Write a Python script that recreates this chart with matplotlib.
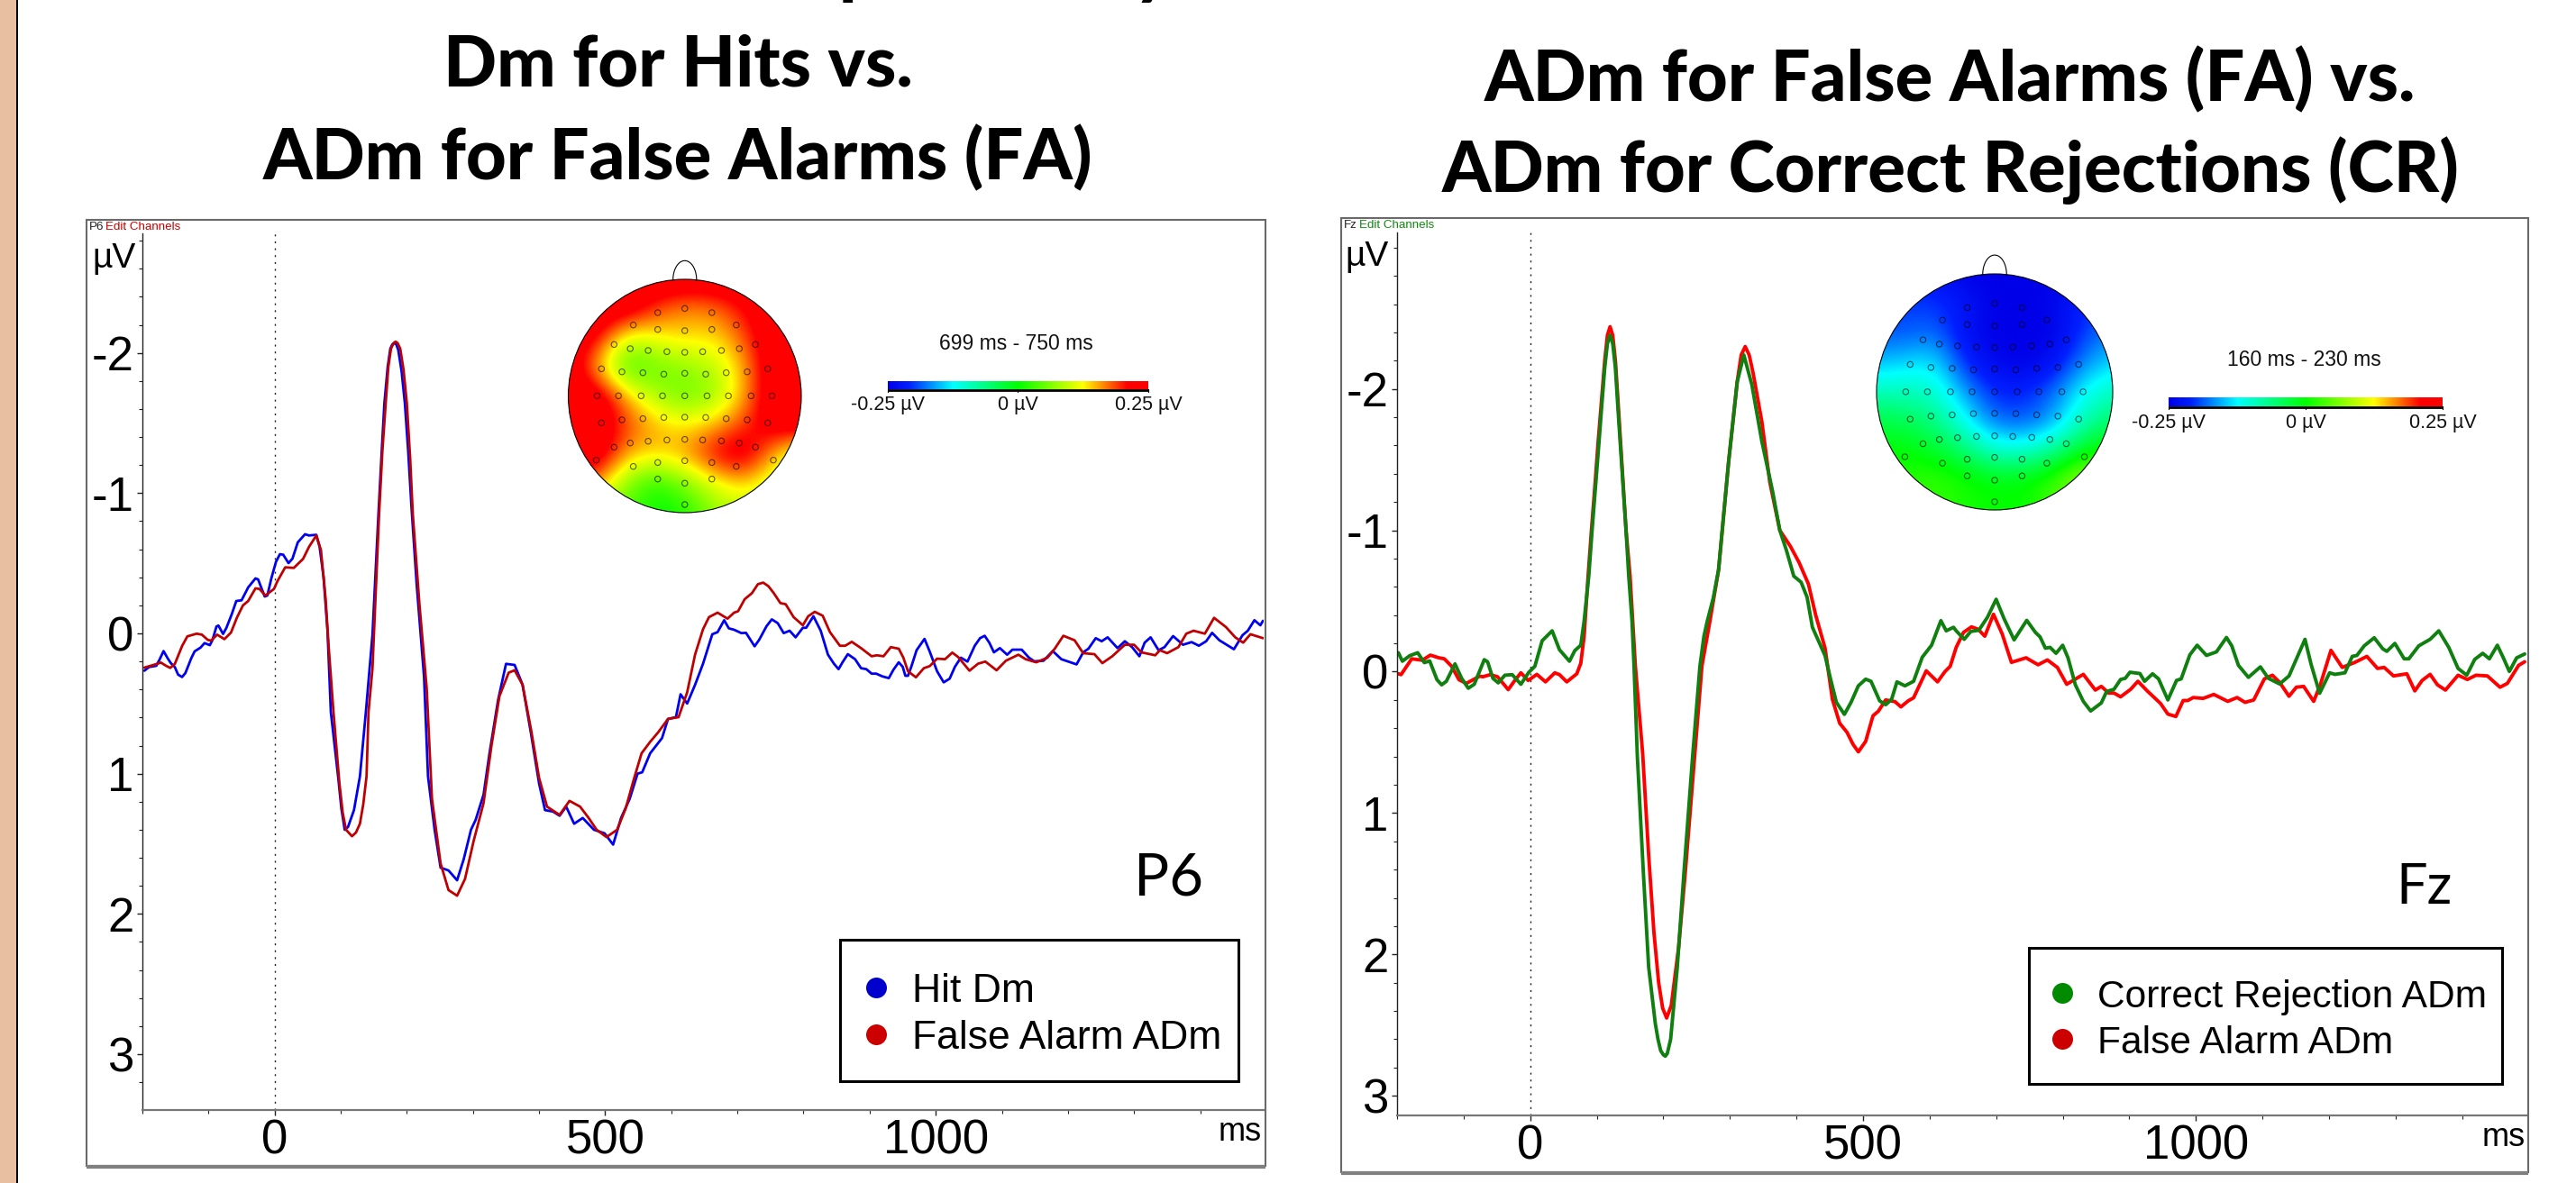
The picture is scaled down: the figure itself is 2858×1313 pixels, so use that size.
import numpy as np
import matplotlib
matplotlib.use("Agg")
import matplotlib.pyplot as plt
from matplotlib.colors import LinearSegmentedColormap
from matplotlib.patches import Rectangle, Ellipse

# ---- data: left panel (P6) ----
hit_ms = [-197,-190,-179,-174,-168,-162,-157,-151,-146,-140,-135,-126,-121,-112,-106,-98,-94,-88,-85,-78,-73,-65,-58,-50,-40,-29,-25,-15,-11,-5,2,8,13,21,27,35,46,52,63,68,74,80,85,96,101,106,111,120,129,138,148,157,162,166,171,175,178,181,184,187,192,197,202,207,215,226,232,242,251,263,276,286,297,304,316,325,338,350,363,375,388,400,409,421,431,441,453,466,483,499,512,524,537,549,556,568,586,595,607,614,624,636,648,662,670,680,687,695,706,713,726,733,744,752,761,770,779,788,799,804,815,826,837,846,853,859,867,878,887,895,903,910,919,929,936,944,950,954,958,963,971,983,991,1002,1012,1021,1029,1038,1048,1059,1067,1074,1081,1088,1097,1108,1116,1130,1141,1149,1163,1177,1190,1213,1223,1231,1242,1251,1260,1275,1286,1297,1308,1316,1325,1337,1346,1359,1374,1387,1398,1409,1418,1429,1451,1464,1472,1482,1491,1495]
hit_uv = [.266,.24,.231,.186,.126,.176,.212,.24,.294,.311,.283,.176,.128,.101,.069,.084,.047,-.049,-.056,.004,-.039,-.135,-.231,-.236,-.328,-.392,-.385,-.263,-.27,-.392,-.51,-.565,-.561,-.501,-.533,-.649,-.707,-.698,-.703,-.617,-.403,-.017,.56,1.02,1.25,1.40,1.38,1.26,1.02,.56,.01,-.85,-1.3,-1.64,-1.9,-2.03,-2.06,-2.07,-2.06,-2.02,-1.87,-1.64,-1.3,-.9,-.34,.31,1.02,1.40,1.67,1.69,1.76,1.61,1.40,1.33,1.15,.855,.475,.217,.225,.366,.72,1.07,1.26,1.27,1.30,1.235,1.357,1.316,1.40,1.425,1.506,1.316,1.18,1.0,.99,.855,.746,.61,.597,.434,.50,.366,.216,.006,-.009,-.094,-.036,-.026,-.002,-.004,.092,.045,-.051,-.10,-.073,-.002,-.019,.028,-.04,-.04,-.122,-.019,.152,.216,.255,.206,.148,.184,.248,.255,.287,.287,.306,.319,.259,.206,.238,.302,.302,.238,.12,.039,.131,.27,.349,.323,.238,.173,.201,.088,.034,.017,.066,.135,.105,.152,.116,.116,.173,.199,.195,.126,.184,.221,.135,.109,.034,.056,.028,.105,.056,.098,.163,.066,.028,.12,.098,.019,.081,.062,.088,.056,-.004,.049,.113,.013,-.019,-.094,-.058,-.09]
fa_p6_ms = [-197,-182,-172,-165,-158,-151,-140,-132,-118,-110,-101,-96,-87,-76,-66,-57,-48,-40,-29,-23,-14,-1,4,16,29,43,52,63,70,77,82,89,98,103,108,117,123,129,134,139,142,148,158,163,168,172,176,180,183,186,190,195,200,205,209,219,230,238,251,263,276,288,301,316,328,340,354,363,375,388,400,412,431,446,462,475,487,502,518,531,543,555,568,580,595,611,624,636,648,657,670,679,685,695,701,711,722,731,739,747,755,765,773,785,799,807,817,829,840,855,863,873,887,903,911,921,932,944,951,958,970,982,991,1002,1014,1025,1034,1051,1064,1075,1092,1106,1125,1136,1152,1169,1180,1193,1210,1223,1240,1252,1267,1286,1300,1311,1332,1339,1350,1367,1379,1390,1407,1421,1439,1453,1465,1476,1495]
fa_p6_uv = [.244,.223,.208,.229,.246,.218,.09,.021,.002,.009,.047,.051,.009,.041,-.006,-.113,-.199,-.231,-.321,-.317,-.27,-.317,-.37,-.471,-.467,-.531,-.617,-.698,-.595,-.253,.111,.56,1.07,1.28,1.40,1.446,1.42,1.357,1.22,1.02,.56,.25,-.85,-1.3,-1.64,-1.9,-2.03,-2.07,-2.08,-2.07,-2.03,-1.88,-1.64,-1.25,-.85,-.21,.39,1.18,1.64,1.83,1.87,1.75,1.48,1.21,.80,.448,.28,.263,.366,.69,1.03,1.235,1.294,1.194,1.235,1.316,1.40,1.452,1.40,1.248,1.045,.855,.773,.706,.61,.597,.42,.15,-.03,-.116,-.148,-.122,-.105,-.148,-.158,-.244,-.287,-.351,-.362,-.336,-.287,-.216,-.208,-.116,-.058,-.122,-.154,-.126,-.009,.088,.088,.06,.105,.163,.156,.163,.098,.109,.173,.27,.313,.248,.233,.18,.184,.137,.169,.266,.216,.201,.263,.195,.152,.184,.206,.173,.109,.017,.049,.141,.148,.212,.163,.081,.081,.135,.156,.12,.141,.098,.002,-.019,.002,-.111,-.045,.028,.066,.006,.034]

# ---- data: right panel (Fz) ----
fa_fz_ms = [-198,-194,-178,-162,-150,-137,-129,-118,-107,-96,-76,-71,-60,-49,-33,-24,-14,-3,10,23,37,44,55,70,76,81,87,92,97,102,107,112,116,120,124,128,132,138,144,150,158,169,178,186,193,199,205,212,223,233,247,258,270,283,298,311,317,323,329,335,348,360,375,391,404,418,429,443,454,465,476,485,493,504,515,523,534,548,557,568,576,595,612,623,631,640,651,663,673,683,696,709,723,745,763,777,792,806,831,849,858,869,877,887,902,913,927,947,958,970,981,988,996,1011,1027,1048,1062,1074,1087,1103,1115,1126,1140,1151,1162,1177,1187,1203,1220,1239,1257,1273,1283,1297,1317,1329,1340,1352,1363,1375,1394,1408,1421,1438,1457,1468,1485,1494]
fa_fz_uv = [.015,.021,-.091,-.081,-.117,-.098,-.091,-.038,.057,.083,.032,.036,.021,.036,.127,.068,.008,.062,.019,.072,.008,.021,.072,.015,-.059,-.25,-.676,-1,-1.3,-1.62,-1.91,-2.2,-2.38,-2.44,-2.38,-2.2,-1.91,-1.45,-1,-.68,-.04,.58,1.3,1.85,2.2,2.38,2.45,2.36,1.95,1.42,.6,-.04,-.357,-.72,-1.48,-2.05,-2.24,-2.30,-2.24,-2.11,-1.77,-1.34,-1,-.886,-.772,-.62,-.399,-.166,.195,.365,.429,.514,.567,.493,.312,.28,.2,.212,.249,.206,.185,-.006,.072,0,-.038,-.172,-.278,-.317,-.3,-.251,-.406,-.268,-.066,-.098,-.049,-.083,-.03,.089,.019,.13,.104,.151,.151,.178,.125,.068,.136,.225,.3,.317,.204,.204,.183,.189,.161,.21,.183,.217,.2,.051,.025,.076,.174,.11,.104,.21,.093,-.151,-.03,-.066,-.108,-.023,-.03,.03,.015,.136,.062,.019,.093,.13,.025,.055,.025,.03,.11,.083,-.045,-.07]
cr_ms = [-198,-192,-181,-169,-159,-151,-140,-133,-126,-113,-103,-93,-84,-69,-64,-56,-48,-38,-27,-14,-2,7,18,33,44,59,67,76,81,88,93,98,103,107,112,116,120,124,128,132,138,144,148,153,156,161,170,178,188,192,196,200,203,206,211,221,231,244,255,261,266,275,283,298,311,321,333,348,364,375,385,396,407,416,424,432,443,451,460,472,482,493,504,512,525,534,543,551,563,576,589,603,617,625,636,640,652,662,674,687,700,712,727,746,759,766,774,781,790,800,808,819,831,842,858,866,877,887,894,901,916,923,935,944,958,971,978,991,1002,1016,1031,1046,1054,1064,1079,1097,1109,1126,1140,1164,1173,1186,1201,1209,1224,1235,1242,1253,1268,1281,1287,1299,1313,1320,1335,1352,1365,1380,1394,1407,1419,1431,1441,1453,1462,1471,1482,1494]
cr_uv = [-.134,-.074,-.113,-.134,-.064,-.076,.057,.093,.068,-.055,.047,.117,.089,-.085,-.07,.047,.079,.025,.021,.089,.004,-.038,-.219,-.289,-.155,-.074,-.149,-.187,-.357,-.676,-1,-1.3,-1.6,-1.85,-2.15,-2.32,-2.38,-2.32,-2.15,-1.85,-1.42,-1,-.68,-.357,-.04,.6,1.42,2.09,2.49,2.6,2.68,2.71,2.72,2.7,2.6,2.09,1.42,.6,-.04,-.25,-.357,-.52,-.72,-1.48,-2.05,-2.24,-2.03,-1.63,-1.28,-1,-.858,-.676,-.633,-.527,-.314,-.229,-.113,.047,.217,.302,.217,.1,.053,.068,.206,.234,.195,.072,.1,.068,-.102,-.187,-.361,-.289,-.314,-.289,-.229,-.285,-.293,-.385,-.512,-.374,-.225,-.363,-.278,-.246,-.166,-.172,-.13,-.187,-.098,.093,.21,.278,.221,.14,.125,.055,.047,.004,.013,.068,.015,.051,.2,.062,.051,-.119,-.187,-.115,-.14,-.242,-.183,-.045,.04,-.034,.047,.087,.03,-.229,-.055,.153,.008,.019,.008,-.108,-.115,-.183,-.24,-.161,-.144,-.2,-.091,-.091,-.183,-.229,-.289,-.172,-.023,.025,-.087,-.13,-.091,-.187,-.098,-.002,-.098,-.125]

x_ticks = [0, 500, 1000]
y_ticks = [-2, -1, 0, 1, 2, 3]

titles_left = ["Dm for Hits vs.", "ADm for False Alarms (FA)"]
titles_right = ["ADm for False Alarms (FA) vs.", "ADm for Correct Rejections (CR)"]
legend_left = ["Hit Dm", "False Alarm ADm"]
legend_right = ["Correct Rejection ADm", "False Alarm ADm"]

# scalp maps: µV on a coarse 9x9 grid over the head's bounding box
topo_left = [
 [.25,.25,.25,.25,.25,.25,.25,.25,.25],
 [.25,.25,.25,.19,.16,.17,.21,.25,.25],
 [.25,.22,.10,.12,.14,.13,.18,.25,.25],
 [.25,.14,.02,.05,.07,.09,.15,.25,.25],
 [.25,.25,.15,.08,.05,.07,.15,.25,.25],
 [.25,.25,.19,.15,.13,.15,.19,.24,.25],
 [.25,.25,.15,.14,.16,.22,.25,.15,.08],
 [.20,.16,.06,.01,.06,.11,.14,.10,.08],
 [.08,.07,.04,0,.01,.07,.09,.08,.08]]
topo_right = [
 [-.22,-.22,-.23,-.25,-.25,-.25,-.25,-.23,-.22],
 [-.20,-.20,-.20,-.22,-.25,-.25,-.24,-.21,-.20],
 [-.19,-.19,-.18,-.23,-.25,-.25,-.25,-.20,-.17],
 [-.15,-.14,-.13,-.21,-.24,-.25,-.23,-.17,-.14],
 [-.09,-.09,-.10,-.16,-.21,-.21,-.18,-.12,-.09],
 [-.03,-.04,-.06,-.12,-.18,-.19,-.16,-.09,-.05],
 [0,0,-.02,-.05,-.10,-.10,-.07,-.01,.02],
 [.01,.02,.03,.01,0,0,.03,.09,.05],
 [.01,.01,.02,.01,0,0,.03,.06,.05]]

elec_x = [268,330,392, 212,268,330,392,448, 168,205,246,289,330,371,414,455,492,
          139,186,234,282,330,378,425,473,520, 129,178,230,279,330,381,430,482,530,
          139,186,234,282,330,378,425,473,520, 168,205,246,289,330,371,414,455,492,
          127,212,268,330,392,448,533, 268,330,392, 330]
elec_y = [231,217,231, 272,287,291,287,272, 337,351,357,361,363,361,357,351,337,
          418,428,431,436,433,436,431,428,418, 508,508,508,508,508,508,508,508,508,
          598,588,584,580,579,580,584,588,598, 679,665,659,655,653,655,658,665,679,
          722,743,730,724,730,743,722, 785,799,785, 870]

W, H = 2858, 1313
plt.rcParams['font.family'] = ['Liberation Sans', 'DejaVu Sans']
plt.rcParams['axes.unicode_minus'] = False
fig = plt.figure(figsize=(W/100, H/100), dpi=100, facecolor='white')
PX = 0.72  # points per pixel

bg = fig.add_axes([0, 0, 1, 1], zorder=0)
bg.set_xlim(0, W); bg.set_ylim(H, 0); bg.axis('off')

def place(l, t, r, b, z=2):
    return fig.add_axes([l/W, 1-b/H, (r-l)/W, (b-t)/H], zorder=z, facecolor='none')

# side strip
bg.add_patch(Rectangle((0, 0), 18, H, fc='#E8BFA0', ec='none'))
bg.add_patch(Rectangle((18, 0), 2.2, H, fc='black', ec='none'))

# titles
title_font = dict(family='Lato', weight='black', color='black', ha='center', va='baseline', fontsize=56)
bg.text(752, 96, titles_left[0], **title_font)
bg.text(752, 199, titles_left[1], **title_font)
bg.text(2163, 112, titles_right[0], **title_font)
bg.text(2164, 213, titles_right[1], **title_font)
# descenders of a heading line cut off by the image's top edge
bg.text(931, -10, "p", family='Lato', weight='black', fontsize=56, va='baseline', ha='left')
bg.text(1258, -10, "y", family='Lato', weight='black', fontsize=56, va='baseline', ha='left')

cmap = LinearSegmentedColormap.from_list('topo', [
    (0, '#0000E8'), (.08, '#0020FF'), (.25, '#00FFFF'), (.5, '#00FF00'),
    (.75, '#FFFF00'), (.92, '#FF0000'), (1, '#FF0000')])

def panel(frame, axbox, xlim, ylim, series, chan, chan_col, chan_xy, edit_x, mu_xy,
          ms_xy, lw, legend_box, legend_labels, legend_cols, mk_x, mk_ys, txt_x, leg_size,
          tag, tag_xy, tag_size, tbox, topo, bar, bar_title, bar_title_xy, bar_labels_y):
    l, t, r, b = frame
    bg.add_patch(Rectangle((l, t), r-l, b-t, fc='white', ec='#6a6a6a', lw=1.5))
    bg.plot([l, r], [b+1, b+1], color='#808080', lw=3, solid_capstyle='butt')
    bg.text(chan_xy[0], chan_xy[1], chan, fontsize=9.6, va='center', color='#222222')
    bg.text(edit_x, chan_xy[1], "Edit Channels", fontsize=9.6, va='center', color=chan_col)
    bg.text(mu_xy[0], mu_xy[1], "µV", fontsize=28, va='center', color='black')
    bg.text(ms_xy[0], ms_xy[1], "ms", fontsize=26, va='center', ha='right', color='black')

    ax = place(*axbox)
    ax.set_xlim(*xlim); ax.set_ylim(*ylim)
    for s in ('top', 'right'):
        ax.spines[s].set_visible(False)
    ax.spines['left'].set_color('#222222'); ax.spines['left'].set_linewidth(1.0)
    ax.spines['bottom'].set_color('#777777'); ax.spines['bottom'].set_linewidth(1.6)
    ax.set_xticks(x_ticks); ax.set_yticks(y_ticks)
    ax.set_xticks(np.arange(-200, 1500, 100), minor=True)
    minor = np.arange(-3, 3.41, .2)
    ax.set_yticks(minor[(minor > ylim[1]) & (minor < ylim[0])], minor=True)
    ax.tick_params(axis='both', which='major', length=4, width=1, color='#222222', labelsize=38, pad=3)
    ax.tick_params(axis='both', which='minor', length=3, width=.8, color='#222222')
    ax.axvline(0, color='#222222', lw=1, ls=(0, (1.5, 4)))
    for xs, ys, col, lab in series:
        ax.plot(xs, ys, color=col, lw=lw, label=lab, solid_joinstyle='round', solid_capstyle='round')

    # legend
    x0, y0, x1, y1 = legend_box
    bg.add_patch(Rectangle((x0, y0), x1-x0, y1-y0, fc='white', ec='black', lw=2.2, zorder=5))
    for lab, col, my in zip(legend_labels, legend_cols, mk_ys):
        bg.plot([mk_x], [my], 'o', ms=23*PX, color=col, mec='none', zorder=6)
        bg.text(txt_x, my+5, lab, fontsize=leg_size, va='center', color='black', zorder=6)
    bg.text(tag_xy[0], tag_xy[1], tag, family='Lato', fontsize=tag_size, va='baseline', ha='left', color='black', zorder=6)

    # scalp map
    ta = place(*tbox, z=3)
    im = ta.imshow(topo, cmap=cmap, vmin=-.25, vmax=.25, interpolation='bicubic', aspect='auto',
                   extent=(63-33.4, 597+33.4, 897+48.6, 120-48.6))
    ta.set_xlim(63, 597); ta.set_ylim(897, 120); ta.axis('off')
    head = Ellipse((330, 508.5), 534, 777, fc='none', ec='black', lw=.8, clip_on=False)
    ta.add_patch(head)
    im.set_clip_path(head)
    ang = np.linspace(0, np.pi, 60)
    ta.plot(330+27*np.cos(ang), 122-64*np.sin(ang), color='black', lw=.8, clip_on=False)
    ta.scatter(elec_x, elec_y, s=21, facecolors='none', edgecolors='#00000099', linewidths=.8, clip_on=False)

    # colour bar
    bl, bt, br, bb = bar
    ca = place(bl, bt, br, bb, z=3)
    ca.imshow(np.linspace(-.25, .25, 256)[None, :], cmap=cmap, vmin=-.25, vmax=.25, aspect='auto')
    ca.axis('off')
    bg.plot([bl, br], [bb+.5, bb+.5], color='black', lw=2, solid_capstyle='butt')
    for xp in (bl, (bl+br)/2, br):
        bg.plot([xp, xp], [bb, bb+3], color='black', lw=.8)
    bg.text(bar_title_xy[0], bar_title_xy[1], bar_title, fontsize=16.5, ha='center', va='center', color='#111111')
    for xp, s in zip((bl, (bl+br)/2, br), ("-0.25 µV", "0 µV", "0.25 µV")):
        bg.text(xp, bar_labels_y, s, fontsize=15.5, ha='center', va='center', color='#111111')

panel(frame=(96, 244, 1404, 1294), axbox=(158, 259, 1402, 1232),
      xlim=(-199, 1496), ylim=(3.398, -2.852),
      series=[(hit_ms, hit_uv, '#0000F0', legend_left[0]), (fa_p6_ms, fa_p6_uv, '#C00000', legend_left[1])],
      chan="P6", chan_col='#CC0000', chan_xy=(99, 252), edit_x=117, mu_xy=(102, 287), ms_xy=(1400, 1256),
      lw=2.0, legend_box=(932, 1043, 1374, 1200),
      legend_labels=legend_left, legend_cols=['#0000CC', '#CC0000'], mk_x=972, mk_ys=(1096, 1148), txt_x=1012, leg_size=32,
      tag="P6", tag_xy=(1258, 993), tag_size=47,
      tbox=(630.5, 310, 889, 569), topo=topo_left, bar=(985, 423, 1274, 432),
      bar_title="699 ms - 750 ms", bar_title_xy=(1127, 382), bar_labels_y=450)

panel(frame=(1488, 242, 2805, 1301), axbox=(1550, 258, 2802.5, 1238),
      xlim=(-199, 1496), ylim=(3.139, -3.107),
      series=[(fa_fz_ms, fa_fz_uv, '#FF0000', legend_right[1]), (cr_ms, cr_uv, '#0F7F0F', legend_right[0])],
      chan="Fz", chan_col='#108A10', chan_xy=(1491, 250), edit_x=1508, mu_xy=(1492, 285), ms_xy=(2802, 1262),
      lw=2.8, legend_box=(2251, 1052, 2776, 1203),
      legend_labels=legend_right, legend_cols=['#008A00', '#CC0000'], mk_x=2288, mk_ys=(1102, 1153), txt_x=2327, leg_size=30.6,
      tag="Fz", tag_xy=(2658, 1003), tag_size=44,
      tbox=(2082, 304, 2344, 566), topo=topo_right, bar=(2406, 441, 2710, 451),
      bar_title="160 ms - 230 ms", bar_title_xy=(2556, 399), bar_labels_y=470)

fig.savefig('out.png', dpi=100)
